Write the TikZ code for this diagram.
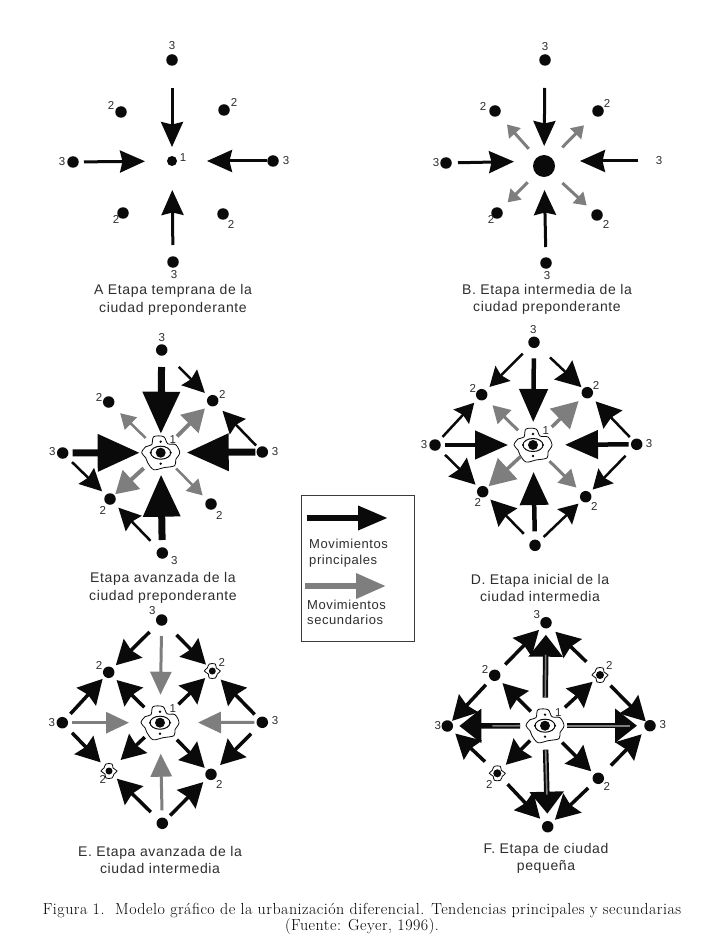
\documentclass[tikz,border=0pt]{standalone}
\usepackage{fontspec}
\newfontfamily\sansf[LetterSpace=4.5]{Liberation Sans}
\newfontfamily\piefont[LetterSpace=3]{Latin Modern Roman}
\usetikzlibrary{arrows.meta}
\definecolor{tinta}{HTML}{0A0A0A}
\definecolor{gris}{HTML}{7E7E7E}
\definecolor{texto}{HTML}{2E2E2E}
\newcounter{lb}
\newcommand{\lab}[3]{\stepcounter{lb}\node[numlab] (lab\arabic{lb}) at (#1,#2) {#3};}
\newcommand{\arr}[5]{\draw[#1,shorten <=#4pt,shorten >=#5pt] (#2.center) -- (#3.center);}
\newcommand{\ciudad}[1]{%
  \begin{scope}[shift={(#1.center)}]
    \draw[line width=0.8pt,tinta] plot[smooth cycle,tension=0.55] coordinates {(-19,0) (-15,-6) (-9,-8) (-7,-16) (3,-16) (7,-9) (15,-8) (19,0) (15,7) (14,13) (3,15) (-7,17) (-13,10) (-15,5)};
    \draw[line width=1pt,tinta] (0,0) ellipse (10 and 6.5);
    \fill[tinta] (0,-11) circle (1.3) (0,11) circle (1.3) (10,0) circle (1.2) (-10,0) circle (1.2);
  \end{scope}}
\newcommand{\chica}[1]{%
  \begin{scope}[shift={(#1.center)}]
    \draw[line width=0.8pt,tinta] plot[smooth cycle,tension=0.6] coordinates {(-8,0) (-5,-3) (-3,-7) (3,-7) (4,-3) (8,0) (5,3) (3,7) (-3,7) (-4,3)};
  \end{scope}}
\tikzset{
  x=1pt,y=-1pt,
  dot/.style={circle,fill=tinta,inner sep=0pt,minimum size=11.5pt},
  dotsm/.style={circle,fill=tinta,inner sep=0pt,minimum size=7pt},
  numlab/.style={text=texto,font=\sansf\fontsize{11.5}{12}\selectfont,inner sep=0pt},
  titulo/.style={text=texto,font=\sansf\fontsize{14}{17.5}\selectfont,align=center,inner sep=0pt},
  leg/.style={text=texto,font=\sansf\fontsize{13}{15.5}\selectfont,align=left,inner sep=0pt,anchor=west},
  flecha/.style n args={4}{draw=#1,line width=#2pt,-{Triangle[length=#3pt,width=#4pt]}},
  fleche/.style n args={4}{draw=#1,line width=#2pt,-{Stealth[length=#3pt,width=#4pt,inset=2.5pt]}},
  negA/.style={fleche={tinta}{3}{25}{22}},
  grisB/.style={flecha={gris}{3}{12}{15}},
  negC/.style={flecha={tinta}{7}{42}{36}},
  negD/.style={flecha={tinta}{4.5}{33}{28}},
  diagC/.style={fleche={tinta}{2.5}{22}{22}},
  diagD/.style={fleche={tinta}{2.5}{19}{21}},
  diagDb/.style={fleche={tinta}{2.5}{25}{26}},
  griC/.style={flecha={gris}{2.5}{15}{17}},
  griCb/.style={flecha={gris}{4}{22}{25}},
  griD/.style={flecha={gris}{3}{17}{19}},
  griDb/.style={flecha={gris}{3.5}{26}{28}},
  griE/.style={flecha={gris}{3}{23}{21}},
  negE/.style={fleche={tinta}{3.5}{24}{26}},
  negF/.style={flecha={tinta}{5.5}{22}{33}},
  interF/.style={draw=gris,line width=1.6pt},
}
\begin{document}
\begin{tikzpicture}
\useasboundingbox (0,0) rectangle (713,941);
\fill[white] (0,0) rectangle (713,941);

%%% Panel A
\node[dot,minimum size=10pt] (ac) at (172,161) {};
\node[dot] (at) at (172,60) {};
\node[dot] (al) at (73,162) {};
\node[dot] (ar) at (273,161) {};
\node[dot] (ab) at (173,262) {};
\node[dot] (aul) at (121,112) {};
\node[dot] (aur) at (224,110) {};
\node[dot] (all) at (123,213) {};
\node[dot] (alr) at (223,214) {};
\arr{negA}{at}{ac}{28}{14}
\arr{negA}{al}{ac}{11}{27}
\arr{negA}{ar}{ac}{6}{35}
\arr{negA}{ab}{ac}{17}{29}
\lab{172}{46}{3}\lab{111}{105}{2}\lab{234}{102}{2}\lab{62}{162}{3}\lab{286}{161}{3}\lab{183}{158}{1}\lab{116}{219}{2}\lab{231}{224}{2}\lab{174}{275}{3}
\node[titulo] (capA) at (173,300) {A Etapa temprana de la\\ciudad preponderante};

%%% Panel B
\node[dot,minimum size=22pt] (bc) at (544,166) {};
\coordinate (bm) at (544,161);
\node[dot] (bt) at (545,60) {};
\node[dot] (bl) at (446,163) {};
\node[dot] (bb) at (546,263) {};
\node[dot] (bul) at (495,111) {};
\node[dot] (bur) at (598,111) {};
\node[dot] (bll) at (497,213) {};
\node[dot] (blr) at (597,215) {};
\node[numlab] (br) at (659,161) {3};
\arr{negA}{bt}{bc}{28}{20}
\arr{negA}{bl}{bm}{12}{30}
\arr{negA}{br}{bm}{21}{36}
\arr{negA}{bb}{bc}{16}{24}
\arr{grisB}{bc}{bul}{23}{18}
\arr{grisB}{bc}{bur}{26}{20}
\arr{grisB}{bc}{bll}{23}{15}
\arr{grisB}{bc}{blr}{25}{14}
\lab{545}{47}{3}\lab{483}{106}{2}\lab{607}{103}{2}\lab{436}{163}{3}\lab{491}{219}{2}\lab{606}{224}{2}\lab{547}{276}{3}
\node[titulo] (capB) at (547,299.5) {B. Etapa intermedia de la\\ciudad preponderante};

%%% Panel C
\node[dot,minimum size=10pt] (cc) at (160.7,452.7) {};
\node[dot] (ct) at (161.7,350) {};
\node[dot] (cul) at (108.7,402) {};
\node[dot] (cur) at (212.7,400.7) {};
\node[dot] (cl) at (62.7,453) {};
\node[dot] (cr) at (262.3,452) {};
\node[dot] (cll) at (110,499) {};
\node[dot] (clr) at (211,504) {};
\node[dot] (cb) at (162.3,553) {};
\ciudad{cc}
\arr{negC}{ct}{cc}{17}{19}
\arr{negC}{cl}{cc}{10}{21}
\arr{negC}{cr}{cc}{7}{26}
\arr{negC}{cb}{cc}{13}{22}
\arr{diagC}{ct}{cur}{24}{11}
\arr{diagC}{cr}{cur}{9}{14}
\arr{diagC}{cl}{cll}{13}{11}
\arr{diagC}{cb}{cll}{17}{12}
\arr{griC}{cc}{cul}{21}{16}
\arr{griCb}{cc}{cur}{23}{11}
\arr{griCb}{cc}{cll}{23}{7}
\arr{griC}{cc}{clr}{22}{12}
\lab{161.7}{338}{3}\lab{99}{397}{2}\lab{222.3}{394}{2}\lab{52.3}{452}{3}\lab{275}{451.7}{3}\lab{172.7}{439.3}{1}\lab{102.7}{510}{2}\lab{219.3}{515}{2}\lab{174.3}{560.7}{3}
\node[titulo] (capC) at (163,588) {Etapa avanzada de la\\ciudad preponderante};

%%% Panel D
\node[dot,minimum size=10pt] (dc) at (533,445) {};
\node[dot] (dt) at (534,342.3) {};
\node[dot] (dul) at (481.7,394.7) {};
\node[dot] (dur) at (587.3,392.7) {};
\node[dot] (dl) at (435,445) {};
\node[dot] (dr) at (636.7,444.3) {};
\node[dot] (dll) at (482.7,491.7) {};
\node[dot] (dlr) at (585.7,496.7) {};
\node[dot] (db) at (535,545.3) {};
\ciudad{dc}
\arr{negD}{dt}{dc}{16}{23}
\arr{negD}{dl}{dc}{10}{25}
\arr{negD}{dr}{dc}{8}{32}
\arr{negD}{db}{dc}{14}{27}
\arr{diagD}{dt}{dul}{16}{11}
\arr{diagD}{dl}{dul}{11}{11}
\arr{diagDb}{dt}{dur}{22}{8}
\arr{diagDb}{dr}{dur}{10}{12}
\arr{diagDb}{dl}{dll}{14}{10}
\arr{diagDb}{db}{dll}{16}{11}
\arr{diagD}{dr}{dlr}{16}{10}
\arr{diagD}{db}{dlr}{12}{10}
\arr{griD}{dc}{dul}{21}{15}
\arr{griDb}{dc}{dur}{26}{12}
\arr{griDb}{dc}{dll}{17}{8}
\arr{griD}{dc}{dlr}{23}{13}
\lab{533.3}{330}{3}\lab{472.7}{388.3}{2}\lab{596}{385}{2}\lab{424}{445}{3}\lab{649}{443.3}{3}\lab{545.7}{430.7}{1}\lab{477.7}{502.7}{2}\lab{594.3}{506}{2}
\node[titulo] (capD) at (540,588) {D. Etapa inicial de la\\ciudad intermedia};

%%% Legend
\node[draw=tinta!80,line width=0.9pt,minimum width=113pt,minimum height=146pt,inner sep=0pt] (ley) at (357.5,568) {};
\coordinate (la) at (307,518);
\coordinate (lb) at (388,518);
\coordinate (lc) at (305,586);
\coordinate (ld) at (386,586);
\draw[flecha={tinta}{6.5}{30}{23}] (la) -- (lb);
\draw[flecha={gris}{6.5}{30}{24}] (lc) -- (ld);
\node[leg] (leyA) at (309,553) {Movimientos\\principales};
\node[leg] (leyB) at (307,612.5) {Movimientos\\secundarios};

%%% Panel E
\node[dot,minimum size=10pt] (ec) at (160,722.7) {};
\node[dot] (et) at (161.7,620) {};
\node[dot] (eul) at (108.7,672.3) {};
\node[dotsm] (eur) at (212.3,671) {};
\node[dot] (el) at (62.3,722.7) {};
\node[dot] (er) at (262.3,722.3) {};
\node[dotsm] (ell) at (109,771) {};
\node[dot] (elr) at (211,774.3) {};
\node[dot] (eb) at (162.3,823.3) {};
\ciudad{ec}\chica{eur}\chica{ell}
\arr{griE}{et}{ec}{16}{28}
\arr{griE}{el}{ec}{10}{31}
\arr{griE}{er}{ec}{8}{38}
\arr{griE}{eb}{ec}{13}{31}
\arr{negE}{et}{eul}{17}{10}
\arr{negE}{el}{eul}{12}{9}
\arr{negE}{et}{eur}{21}{9}
\arr{negE}{er}{eur}{11}{12}
\arr{negE}{el}{ell}{14}{12}
\arr{negE}{eb}{ell}{16}{11}
\arr{negE}{er}{elr}{16}{13}
\arr{negE}{eb}{elr}{11}{11}
\arr{negE}{ec}{eul}{22}{11}
\arr{negE}{ec}{eur}{26}{10}
\arr{negE}{ec}{ell}{21}{16}
\arr{negE}{ec}{elr}{24}{9}
\lab{152.3}{611}{3}\lab{99}{665.7}{2}\lab{221.7}{662.3}{2}\lab{51.7}{722.7}{3}\lab{275}{721}{3}\lab{172.7}{708.3}{1}\lab{102.7}{779}{2}\lab{219.3}{784}{2}
\node[titulo] (capE) at (160,860) {E. Etapa avanzada de la\\ciudad intermedia};

%%% Panel F
\node[dot,minimum size=10pt] (fc) at (545,725.7) {};
\node[dot] (ft) at (546,622.7) {};
\node[dot] (ful) at (494.7,675.3) {};
\node[dot,minimum size=8pt] (fur) at (600,675) {};
\node[dot] (fl) at (447.3,726) {};
\node[dot] (fr) at (650,725.7) {};
\node[dot,minimum size=8pt] (fll) at (497.3,773.3) {};
\node[dot] (flr) at (598.3,778.3) {};
\node[dot] (fb) at (547.7,826.7) {};
\ciudad{fc}\chica{fur}\chica{fll}
\arr{negF}{fc}{ft}{28}{12}
\arr{negF}{fc}{fl}{25}{12}
\arr{negF}{fc}{fr}{22}{13}
\arr{negF}{fc}{fb}{24}{13}
\arr{interF}{fc}{ft}{28}{32}
\arr{interF}{fc}{fl}{25}{45}
\arr{interF}{fc}{fr}{22}{20}
\arr{interF}{fc}{fb}{24}{32}
\arr{negE}{ful}{ft}{15}{10}
\arr{negE}{fur}{ft}{19}{13}
\arr{negE}{ful}{fl}{13}{7}
\arr{negE}{fur}{fr}{15}{6}
\arr{negE}{fll}{fl}{17}{11}
\arr{negE}{flr}{fr}{18}{12}
\arr{negE}{fll}{fb}{15}{11}
\arr{negE}{flr}{fb}{14}{10}
\arr{negE}{fc}{ful}{20}{11}
\arr{negE}{fc}{fur}{27}{10}
\arr{negE}{fc}{fll}{21}{12}
\arr{negE}{fc}{flr}{24}{10}
\lab{536.7}{615}{3}\lab{485}{669.3}{2}\lab{609.3}{665.7}{2}\lab{437.7}{725.7}{3}\lab{662.7}{725}{3}\lab{558.3}{712.3}{1}\lab{489.3}{784}{2}\lab{606.7}{786.7}{2}
\node[titulo] (capF) at (546,858.5) {F. Etapa de ciudad\\pequeña};

%%% Caption
\node[text=black,font=\piefont\fontsize{16}{16}\selectfont,align=center,inner sep=0pt] (pie) at (362,918.5) {Figura 1.\ \ Modelo gráfico de la urbanización diferencial. Tendencias principales y secundarias\\(Fuente: Geyer, 1996).};
\end{tikzpicture}
\end{document}
